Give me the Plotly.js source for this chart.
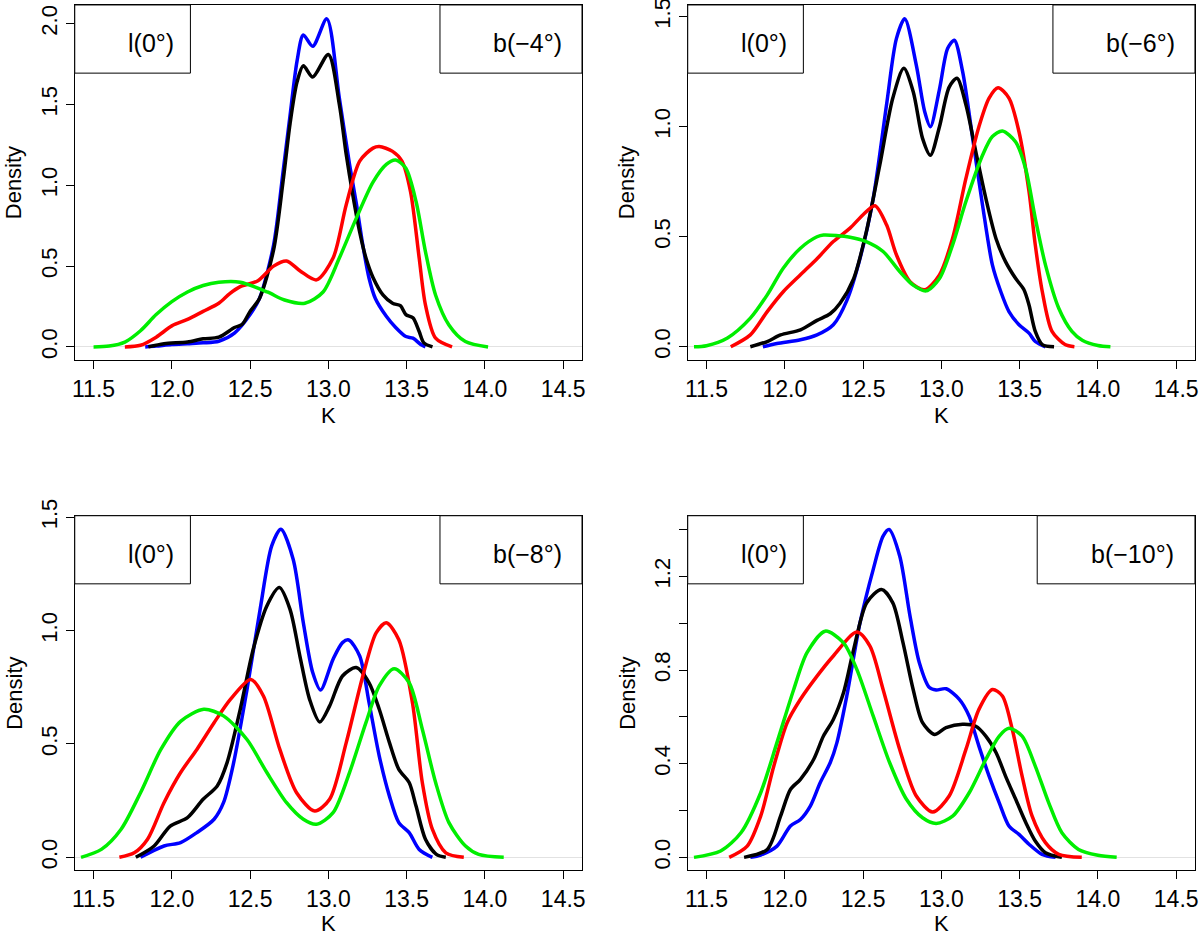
<!DOCTYPE html>
<html>
<head>
<meta charset="utf-8">
<script src="https://cdn.plot.ly/plotly-3.0.1.min.js"></script>
<style>
  html, body { margin: 0; padding: 0; background: #fff; }
  #chart { width: 1200px; height: 937px; }
</style>
</head>
<body>
<div id="chart"></div>
<script>
// tick labels and legend text
const kTicks = [11.5, 12.0, 12.5, 13.0, 13.5, 14.0, 14.5];
const lonLabel = 'l(0°)';
const latLabels = ['b(\u22124°)', 'b(\u22126°)', 'b(\u22128°)', 'b(\u221210°)'];

// density curves, [K, density] pairs
// b = -4
const b4Blue = [[11.83,0],[11.9,0.005],[12.0,0.015],[12.1,0.02],[12.2,0.025],[12.3,0.035],[12.4,0.085],[12.5,0.2],[12.56,0.3],[12.65,0.63],[12.71,1.08],[12.755,1.43],[12.8,1.77],[12.84,1.93],[12.9,1.86],[12.99,2.03],[13.07,1.54],[13.135,1.13],[13.18,0.88],[13.22,0.63],[13.26,0.425],[13.3,0.3],[13.37,0.19],[13.43,0.12],[13.495,0.064],[13.54,0.054],[13.59,0.015],[13.62,0]];
const b4Black = [[11.85,0],[11.95,0.02],[12.1,0.03],[12.2,0.05],[12.3,0.06],[12.4,0.12],[12.45,0.14],[12.5,0.22],[12.56,0.3],[12.65,0.6],[12.71,1.02],[12.755,1.38],[12.8,1.64],[12.84,1.74],[12.9,1.67],[13.0,1.81],[13.07,1.5],[13.114,1.19],[13.156,0.94],[13.2,0.71],[13.24,0.55],[13.285,0.43],[13.35,0.32],[13.41,0.27],[13.46,0.255],[13.495,0.2],[13.54,0.18],[13.58,0.095],[13.61,0.025],[13.665,0]];
const b4Red = [[11.7,0],[11.8,0.01],[11.9,0.06],[12.0,0.13],[12.1,0.17],[12.2,0.22],[12.3,0.27],[12.37,0.33],[12.437,0.373],[12.55,0.41],[12.65,0.5],[12.733,0.532],[12.82,0.47],[12.924,0.415],[13.03,0.55],[13.114,0.88],[13.2,1.15],[13.285,1.23],[13.325,1.24],[13.41,1.21],[13.47,1.15],[13.525,0.96],[13.58,0.55],[13.62,0.26],[13.685,0.054],[13.79,0]];
const b4Green = [[11.5,0],[11.6,0.005],[11.7,0.03],[11.8,0.1],[11.9,0.2],[12.0,0.28],[12.1,0.34],[12.2,0.38],[12.3,0.4],[12.437,0.4],[12.61,0.34],[12.72,0.29],[12.85,0.27],[12.966,0.34],[13.07,0.55],[13.18,0.8],[13.285,1.02],[13.37,1.13],[13.43,1.157],[13.495,1.105],[13.56,0.9],[13.62,0.59],[13.685,0.32],[13.77,0.136],[13.875,0.033],[14.02,0]];

// b = -6
const b6Blue = [[11.86,0],[11.95,0.015],[12.1,0.032],[12.206,0.054],[12.31,0.1],[12.396,0.21],[12.48,0.4],[12.565,0.675],[12.65,1.1],[12.713,1.4],[12.766,1.49],[12.84,1.28],[12.893,1.07],[12.93,1.0],[12.988,1.17],[13.04,1.355],[13.083,1.393],[13.136,1.25],[13.2,0.947],[13.263,0.644],[13.326,0.372],[13.38,0.25],[13.432,0.16],[13.496,0.1],[13.56,0.062],[13.6,0.024],[13.665,0]];
const b6Black = [[11.78,0],[11.888,0.024],[11.973,0.054],[12.1,0.077],[12.206,0.12],[12.29,0.15],[12.353,0.198],[12.44,0.31],[12.52,0.52],[12.607,0.826],[12.69,1.13],[12.76,1.265],[12.82,1.16],[12.88,0.947],[12.93,0.87],[12.988,1.0],[13.05,1.18],[13.1,1.22],[13.157,1.1],[13.22,0.887],[13.284,0.675],[13.35,0.49],[13.41,0.387],[13.475,0.31],[13.527,0.26],[13.56,0.19],[13.6,0.07],[13.645,0.01],[13.72,0]];
const b6Red = [[11.655,0],[11.78,0.054],[11.888,0.16],[11.99,0.25],[12.1,0.327],[12.206,0.4],[12.31,0.478],[12.417,0.539],[12.5,0.6],[12.576,0.641],[12.65,0.554],[12.713,0.418],[12.8,0.296],[12.893,0.259],[12.988,0.327],[13.072,0.493],[13.157,0.765],[13.24,1.0],[13.305,1.13],[13.362,1.177],[13.432,1.13],[13.496,0.977],[13.56,0.705],[13.6,0.463],[13.645,0.25],[13.707,0.07],[13.79,0.01],[13.85,0]];
const b6Green = [[11.42,0],[11.5,0.005],[11.634,0.04],[11.78,0.13],[11.888,0.236],[11.99,0.357],[12.1,0.448],[12.206,0.5],[12.247,0.508],[12.417,0.498],[12.52,0.478],[12.628,0.433],[12.734,0.342],[12.82,0.28],[12.903,0.254],[12.988,0.31],[13.072,0.463],[13.157,0.66],[13.263,0.87],[13.326,0.955],[13.39,0.98],[13.475,0.93],[13.538,0.81],[13.6,0.584],[13.665,0.372],[13.75,0.175],[13.834,0.07],[13.9,0.03],[14.0,0.006],[14.08,0]];

// b = -8
const b8Blue = [[11.8,0],[11.95,0.05],[12.056,0.065],[12.16,0.109],[12.27,0.168],[12.33,0.241],[12.395,0.418],[12.48,0.74],[12.564,1.094],[12.638,1.374],[12.697,1.447],[12.775,1.315],[12.84,1.035],[12.9,0.815],[12.95,0.738],[13.03,0.874],[13.09,0.947],[13.13,0.959],[13.2,0.888],[13.26,0.682],[13.325,0.447],[13.39,0.27],[13.45,0.153],[13.516,0.109],[13.58,0.035],[13.664,0]];
const b8Black = [[11.77,0],[11.887,0.05],[11.99,0.138],[12.1,0.175],[12.2,0.256],[12.29,0.315],[12.353,0.418],[12.437,0.653],[12.52,0.918],[12.607,1.109],[12.687,1.19],[12.755,1.094],[12.818,0.888],[12.88,0.697],[12.945,0.597],[13.008,0.668],[13.09,0.8],[13.178,0.837],[13.26,0.77],[13.325,0.653],[13.39,0.506],[13.45,0.388],[13.516,0.33],[13.56,0.226],[13.62,0.08],[13.69,0.013],[13.75,0]];
const b8Red = [[11.665,0],[11.76,0.02],[11.845,0.08],[11.95,0.241],[12.056,0.374],[12.16,0.476],[12.27,0.594],[12.374,0.697],[12.505,0.785],[12.585,0.712],[12.69,0.476],[12.797,0.285],[12.913,0.204],[13.008,0.256],[13.114,0.506],[13.22,0.8],[13.305,0.99],[13.37,1.035],[13.45,0.96],[13.537,0.682],[13.6,0.33],[13.664,0.124],[13.75,0.02],[13.865,0]];
const b8Green = [[11.42,0],[11.55,0.035],[11.676,0.124],[11.8,0.285],[11.93,0.476],[12.056,0.6],[12.204,0.653],[12.33,0.624],[12.48,0.52],[12.607,0.374],[12.733,0.241],[12.84,0.168],[12.924,0.146],[13.03,0.197],[13.135,0.374],[13.24,0.594],[13.325,0.756],[13.42,0.832],[13.516,0.77],[13.6,0.565],[13.685,0.33],[13.77,0.153],[13.876,0.05],[13.96,0.013],[14.12,0]];

// b = -10
const b10Blue = [[11.78,0],[11.846,0.01],[11.95,0.048],[12.036,0.134],[12.1,0.162],[12.163,0.219],[12.226,0.319],[12.29,0.404],[12.333,0.49],[12.396,0.689],[12.48,1.0],[12.565,1.23],[12.628,1.372],[12.666,1.4],[12.734,1.287],[12.8,1.03],[12.86,0.83],[12.924,0.725],[12.967,0.715],[13.03,0.72],[13.115,0.675],[13.178,0.603],[13.24,0.475],[13.305,0.347],[13.37,0.233],[13.432,0.134],[13.496,0.098],[13.56,0.056],[13.643,0.013],[13.73,0]];
const b10Black = [[11.74,0],[11.888,0.034],[11.973,0.176],[12.036,0.29],[12.1,0.333],[12.184,0.418],[12.247,0.518],[12.31,0.589],[12.375,0.703],[12.44,0.888],[12.523,1.087],[12.618,1.144],[12.69,1.087],[12.755,0.917],[12.82,0.717],[12.88,0.575],[12.956,0.525],[13.03,0.554],[13.136,0.568],[13.22,0.56],[13.284,0.518],[13.35,0.447],[13.41,0.347],[13.475,0.248],[13.54,0.148],[13.6,0.07],[13.665,0.02],[13.77,0]];
const b10Red = [[11.645,0],[11.76,0.048],[11.846,0.176],[11.93,0.39],[12.015,0.575],[12.1,0.675],[12.206,0.774],[12.31,0.86],[12.46,0.962],[12.544,0.902],[12.628,0.717],[12.734,0.461],[12.84,0.262],[12.945,0.194],[13.05,0.262],[13.157,0.461],[13.24,0.632],[13.326,0.717],[13.39,0.689],[13.453,0.547],[13.516,0.347],[13.58,0.176],[13.665,0.063],[13.75,0.013],[13.897,0]];
const b10Green = [[11.42,0],[11.59,0.027],[11.72,0.105],[11.846,0.276],[11.95,0.49],[12.057,0.717],[12.142,0.874],[12.258,0.966],[12.374,0.917],[12.46,0.803],[12.565,0.603],[12.67,0.404],[12.777,0.248],[12.88,0.169],[12.967,0.145],[13.072,0.176],[13.178,0.276],[13.284,0.418],[13.37,0.518],[13.432,0.551],[13.516,0.518],[13.6,0.39],[13.686,0.233],[13.77,0.105],[13.876,0.034],[14.0,0.009],[14.12,0]];

const curveColors = ['#0000ff', '#000000', '#ff0000', '#00ee00'];
const panelCurves = [
  [b4Blue, b4Black, b4Red, b4Green],
  [b6Blue, b6Black, b6Red, b6Green],
  [b8Blue, b8Black, b8Red, b8Green],
  [b10Blue, b10Black, b10Red, b10Green]
];

// y ticks per panel
const yTicks = [
  [0, 0.5, 1.0, 1.5, 2.0],
  [0, 0.5, 1.0, 1.5],
  [0, 0.5, 1.0, 1.5],
  [0, 0.2, 0.4, 0.6, 0.8, 1.0, 1.2, 1.4]
];
const yTickText = [
  ['0.0', '0.5', '1.0', '1.5', '2.0'],
  ['0.0', '0.5', '1.0', '1.5'],
  ['0.0', '0.5', '1.0', '1.5'],
  ['0.0', '', '0.4', '', '0.8', '', '1.2', '']
];

// panel placement (paper fractions) and axis ranges
const cells = [
  { x: [0.0623, 0.485], y: [0.6158, 0.9947], yr: [-0.081, 2.116], rightBox: 0.720 },
  { x: [0.5731, 0.9958], y: [0.6158, 0.9947], yr: [-0.060, 1.553], rightBox: 0.720 },
  { x: [0.0623, 0.485], y: [0.0710, 0.4496], yr: [-0.058, 1.507], rightBox: 0.720 },
  { x: [0.5731, 0.9958], y: [0.0710, 0.4496], yr: [-0.056, 1.459], rightBox: 0.689 }
];

const FONT = 'Liberation Sans, Arial, Helvetica, sans-serif';
const H = 937, W = 1200;
const traces = [];
const layout = {
  width: W,
  height: H,
  margin: { t: 0, r: 0, b: 0, l: 0 },
  showlegend: false,
  plot_bgcolor: '#ffffff',
  paper_bgcolor: '#ffffff',
  font: { family: FONT, color: '#000' },
  shapes: [],
  annotations: []
};

cells.forEach((c, i) => {
  const n = i === 0 ? '' : String(i + 1);
  const xa = 'x' + n, ya = 'y' + n;

  panelCurves[i].forEach((pts, j) => {
    traces.push({
      x: pts.map(p => p[0]),
      y: pts.map(p => p[1]),
      xaxis: xa,
      yaxis: ya,
      type: 'scatter',
      mode: 'lines',
      line: { color: curveColors[j], width: 3.5, shape: 'spline', smoothing: 0.8 },
      hoverinfo: 'skip'
    });
  });

  layout['xaxis' + n] = {
    domain: c.x, anchor: ya, range: [11.38, 14.62],
    tickvals: kTicks, ticktext: kTicks.map(v => v.toFixed(1)),
    ticks: 'outside', ticklen: 8, tickwidth: 1, tickcolor: '#000',
    showline: true, mirror: true, linecolor: '#000', linewidth: 1,
    showgrid: false, zeroline: false, fixedrange: true,
    ticklabeloverflow: 'allow',
    tickfont: { family: FONT, size: 23, color: '#000' }
  };
  layout['yaxis' + n] = {
    domain: c.y, anchor: xa, range: c.yr,
    tickvals: yTicks[i], ticktext: yTickText[i], tickangle: -90,
    ticks: 'outside', ticklen: 8, tickwidth: 1, tickcolor: '#000',
    showline: true, mirror: true, linecolor: '#000', linewidth: 1,
    showgrid: false, zeroline: true, zerolinecolor: '#e2e2e2', zerolinewidth: 1,
    fixedrange: true, ticklabeloverflow: 'allow',
    tickfont: { family: FONT, size: 22, color: '#000' }
  };

  // legend-style boxes
  layout.shapes.push(
    { type: 'rect', xref: xa + ' domain', yref: ya + ' domain', x0: 0, x1: 0.228, y0: 0.808, y1: 1,
      line: { color: '#000', width: 1 }, fillcolor: '#fff', layer: 'above' },
    { type: 'rect', xref: xa + ' domain', yref: ya + ' domain', x0: c.rightBox, x1: 1, y0: 0.808, y1: 1,
      line: { color: '#000', width: 1 }, fillcolor: '#fff', layer: 'above' }
  );

  // K label: keep inside the page for the bottom row
  const kFromBottom = c.y[0] * H - 56;
  const kLabel = kFromBottom > 14
    ? { y: kFromBottom / H, yanchor: 'middle' }
    : { y: 0, yanchor: 'bottom' };

  layout.annotations.push(
    { xref: xa + ' domain', yref: ya + ' domain', x: 0.1015, y: 0.892, xanchor: 'left', yanchor: 'middle',
      text: lonLabel, showarrow: false, font: { family: FONT, size: 25, color: '#000' } },
    { xref: xa + ' domain', yref: ya + ' domain', x: c.rightBox + 0.1015, y: 0.892, xanchor: 'left', yanchor: 'middle',
      text: latLabels[i], showarrow: false, font: { family: FONT, size: 25, color: '#000' } },
    { xref: 'paper', yref: 'paper', x: (c.x[0] + c.x[1]) / 2, y: kLabel.y, xanchor: 'center', yanchor: kLabel.yanchor,
      borderpad: 0, text: 'K', showarrow: false, font: { family: FONT, size: 22, color: '#000' } },
    { xref: 'paper', yref: 'paper', x: c.x[0] - 61 / W, y: (c.y[0] + c.y[1]) / 2, xanchor: 'center', yanchor: 'middle',
      text: 'Density', textangle: -90, showarrow: false, font: { family: FONT, size: 22, color: '#000' } }
  );
});

Plotly.newPlot('chart', traces, layout, { displayModeBar: false, staticPlot: true });
</script>
</body>
</html>
